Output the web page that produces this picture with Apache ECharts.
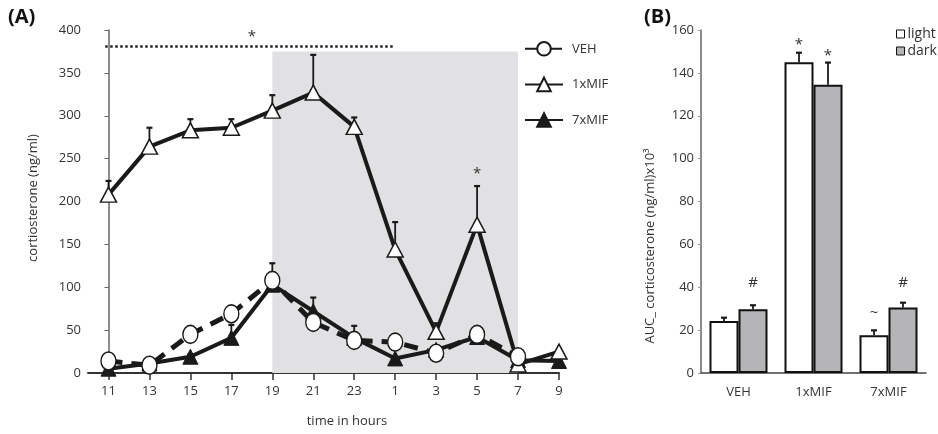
<!DOCTYPE html>
<html>
<head>
<meta charset="utf-8">
<script src="https://cdn.jsdelivr.net/npm/echarts@6/dist/echarts.min.js"></script>
<style>html,body{margin:0;padding:0;background:#fff}#c{width:938px;height:434px}</style>
</head>
<body>
<div id="c"></div>
<script>
// ---- Panel A data ----
var hours = ['11','13','15','17','19','21','23','1','3','5','7','9'];
var vehMean  = [14, 9, 45, 69, 108, 59, 38, 36, 23, 45, 19, null];
var vehErr   = [0, 0, 0, 0, 20, 0, 0, 0, 0, 0, 0, 0];
var mif1Mean = [208, 264, 283, 286, 306, 327, 287, 144, 48, 173, 10, 25];
var mif1Err  = [16, 22, 13, 10, 18, 44, 11, 32, 10, 45, 0, 0];
var mif7Mean = [5, 11, 19, 41, 103, 72, 41, 17, 27, 42, 15, 14];
var mif7Err  = [0, 0, 3, 15, 0, 16, 14, 0, 0, 0, 0, 0];
var yTicksA = [0, 50, 100, 150, 200, 250, 300, 350, 400];
// dark phase: from 19 h (index 4) to 7 h (index 10)
var darkPhase = {from: 4, to: 10, top: 375};
// significance bar over 11..1 h
var sigBar = {from: -0.08, to: 7, y: 381};
var annotA = [[3.5, 392, '*'], [9, 232, '*']];

// ---- Panel B data ----
var groups = ['VEH', '1xMIF', '7xMIF'];
var lightMean = [24.3, 145, 17.6];
var lightErr  = [1.5, 4.4, 2.3];
var darkMean  = [29.7, 134.5, 30.5];
var darkErr   = [1.9, 10.3, 2.3];
var annotLight = ['', '*', '~'];
var annotDark  = ['#', '*', '#'];
var annotLightY = [0, 153, 28];
var annotDarkY  = [42, 148, 42];
var yTicksB = [0, 20, 40, 60, 80, 100, 120, 140, 160];

var FONT = 'Open Sans';
var TXT = '#333';
var BLACK = '#1a1a1a';
var ELLIPSE = 'path://M50,0 A50,50 0 1,1 50,100 A50,50 0 1,1 50,0 Z';

function xy(means) { return means.map(function (v, i) { return [i, v]; }); }
function errRows(means, errs) {
  var out = [];
  means.forEach(function (v, i) { if (errs[i] > 0 && v != null) out.push([i, v, errs[i]]); });
  return out;
}

var errA = [].concat(errRows(vehMean, vehErr), errRows(mif1Mean, mif1Err), errRows(mif7Mean, mif7Err));
var errB = [];
lightMean.forEach(function (v, i) { errB.push([i, v, lightErr[i], -1]); });
darkMean.forEach(function (v, i) { errB.push([i, v, darkErr[i], 1]); });
var annB = [];
annotLight.forEach(function (t, i) { if (t) annB.push([i, annotLightY[i], t, -1]); });
annotDark.forEach(function (t, i) { if (t) annB.push([i, annotDarkY[i], t, 1]); });

var BAR_W = 29;

function errBarRender(params, api) {
  var x = api.value(0), m = api.value(1), e = api.value(2);
  var dx = (api.value(3) || 0) * BAR_W / 2;
  var p0 = api.coord([x, m]), p1 = api.coord([x, m + e]);
  var cx = p0[0] + dx;
  return {
    type: 'group',
    children: [
      {type: 'line', shape: {x1: cx, y1: p0[1], x2: cx, y2: p1[1]}, style: {stroke: BLACK, lineWidth: 1.8}},
      {type: 'line', shape: {x1: cx - 3, y1: p1[1], x2: cx + 3, y2: p1[1]}, style: {stroke: BLACK, lineWidth: 2.2}}
    ]
  };
}
function textRender(params, api) {
  var p = api.coord([api.value(0), api.value(1)]);
  var dx = (api.value(3) || 0) * BAR_W / 2;
  return {
    type: 'text',
    x: p[0] + dx, y: p[1],
    style: {text: api.value(2), fill: TXT, font: '15px ' + FONT, textAlign: 'center', textVerticalAlign: 'middle'}
  };
}

var chart = echarts.init(document.getElementById('c'), null, {renderer: 'canvas'});
var option = {
  animation: false,
  backgroundColor: '#fff',
  textStyle: {fontFamily: FONT},
  graphic: [
    {type: 'text', left: 8, top: 7, style: {text: '(A)', font: 'bold 20px ' + FONT, fill: '#111'}},
    {type: 'text', left: 644, top: 7, style: {text: '(B)', font: 'bold 20px ' + FONT, fill: '#111'}},
    {type: 'text', x: 347, y: 421, style: {text: 'time in hours', font: '13px ' + FONT, fill: TXT, textAlign: 'center', textVerticalAlign: 'middle'}},
    {type: 'text', x: 33, y: 198, rotation: Math.PI / 2, style: {text: 'cortiosterone (ng/ml)', font: '13px ' + FONT, fill: TXT, textAlign: 'center', textVerticalAlign: 'middle'}},
    {type: 'text', x: 650, y: 246, rotation: Math.PI / 2, style: {text: 'AUC_ corticosterone (ng/ml)x10\u00B3', font: '13px ' + FONT, fill: TXT, textAlign: 'center', textVerticalAlign: 'middle'}}
  ],
  legend: [
    {
      data: ['VEH', '1xMIF', '7xMIF'], orient: 'vertical', left: 519, top: 36,
      itemWidth: 38, itemHeight: 17, itemGap: 20,
      textStyle: {fontFamily: FONT, fontSize: 13, color: TXT, padding: [0, 0, 0, 4]}
    },
    {
      data: [{name: 'light', icon: 'rect'}, {name: 'dark', icon: 'rect'}], orient: 'vertical', left: 891, top: 22,
      itemWidth: 8, itemHeight: 8, itemGap: 3,
      itemStyle: {borderWidth: 1},
      textStyle: {fontFamily: FONT, fontSize: 14, color: TXT, padding: [0, 0, 0, -2]}
    }
  ],
  grid: [
    {left: 88, right: 379, top: 30, bottom: 61},
    {left: 701, right: 12, top: 30, bottom: 61}
  ],
  xAxis: [
    {
      gridIndex: 0, type: 'value', min: -0.5, max: 11,
      splitLine: {show: false},
      axisLine: {show: true, lineStyle: {color: '#333', width: 2}},
      axisTick: {show: true, length: 7, customValues: hours.map(function (h, i) { return i; }), lineStyle: {color: '#333', width: 1.5}},
      axisLabel: {customValues: hours.map(function (h, i) { return i; }), formatter: function (v) { return hours[Math.round(v)]; }, fontSize: 13, color: TXT, margin: 12, fontFamily: FONT}
    },
    {
      gridIndex: 1, type: 'category', data: groups,
      axisLine: {show: true, lineStyle: {color: '#444', width: 1.5}},
      axisTick: {show: false},
      axisLabel: {fontSize: 13, color: TXT, margin: 13, fontFamily: FONT}
    }
  ],
  yAxis: [
    {
      gridIndex: 0, type: 'value', min: 0, max: 400, interval: 50,
      splitLine: {show: false},
      axisLine: {show: true, lineStyle: {color: '#666', width: 1.5}},
      axisTick: {show: true, length: 4, lineStyle: {color: '#666'}},
      axisLabel: {fontSize: 13, color: TXT, margin: 7, fontFamily: FONT}
    },
    {
      gridIndex: 1, type: 'value', min: 0, max: 160, interval: 20,
      splitLine: {show: false},
      axisLine: {show: true, lineStyle: {color: '#666', width: 1.5}},
      axisTick: {show: true, length: 3, lineStyle: {color: '#999'}},
      axisLabel: {fontSize: 13, color: TXT, margin: 7, fontFamily: FONT}
    }
  ],
  series: [
    {
      name: 'shade', type: 'line', xAxisIndex: 0, yAxisIndex: 0, data: [], z: 0, silent: true,
      markArea: {
        silent: true, itemStyle: {color: '#e1e1e3'},
        data: [[{xAxis: darkPhase.from, yAxis: 0}, {xAxis: darkPhase.to, yAxis: darkPhase.top}]]
      },
      markLine: {
        silent: true, symbol: ['none', 'none'], label: {show: false},
        lineStyle: {color: '#222', width: 2.5, type: [2.5, 2.5]},
        data: [[{coord: [sigBar.from, sigBar.y]}, {coord: [sigBar.to, sigBar.y]}]]
      }
    },
    {
      name: 'errA', type: 'custom', xAxisIndex: 0, yAxisIndex: 0, z: 1, silent: true,
      renderItem: errBarRender, data: errA
    },
    {
      name: '7xMIF', type: 'line', xAxisIndex: 0, yAxisIndex: 0, z: 2,
      data: xy(mif7Mean), symbol: 'triangle', symbolSize: [15, 15],
      lineStyle: {color: BLACK, width: 4},
      itemStyle: {color: BLACK, borderColor: BLACK, borderWidth: 1}
    },
    {
      name: '1xMIF', type: 'line', xAxisIndex: 0, yAxisIndex: 0, z: 3,
      data: xy(mif1Mean), symbol: 'triangle', symbolSize: [16, 15],
      lineStyle: {color: BLACK, width: 4},
      itemStyle: {color: '#fff', borderColor: BLACK, borderWidth: 1.5}
    },
    {
      name: 'VEH', type: 'line', xAxisIndex: 0, yAxisIndex: 0, z: 4,
      data: xy(vehMean), symbol: ELLIPSE, symbolSize: [15, 18], symbolKeepAspect: false,
      lineStyle: {color: BLACK, width: 5, type: [14, 9]},
      itemStyle: {color: '#fff', borderColor: BLACK, borderWidth: 1.5}
    },
    {
      name: 'annA', type: 'custom', xAxisIndex: 0, yAxisIndex: 0, z: 5, silent: true,
      renderItem: textRender, data: annotA
    },
    {
      name: 'light', type: 'bar', xAxisIndex: 1, yAxisIndex: 1, data: lightMean,
      barWidth: BAR_W, barGap: '0%',
      itemStyle: {color: '#fff', borderColor: '#111', borderWidth: 2}
    },
    {
      name: 'dark', type: 'bar', xAxisIndex: 1, yAxisIndex: 1, data: darkMean,
      barWidth: BAR_W, barGap: '0%',
      itemStyle: {color: '#b5b5b7', borderColor: '#111', borderWidth: 2}
    },
    {
      name: 'errB', type: 'custom', xAxisIndex: 1, yAxisIndex: 1, z: 1, silent: true,
      renderItem: errBarRender, data: errB
    },
    {
      name: 'annB', type: 'custom', xAxisIndex: 1, yAxisIndex: 1, z: 5, silent: true,
      renderItem: textRender, data: annB
    }
  ]
};
chart.setOption(option);
</script>
</body>
</html>
